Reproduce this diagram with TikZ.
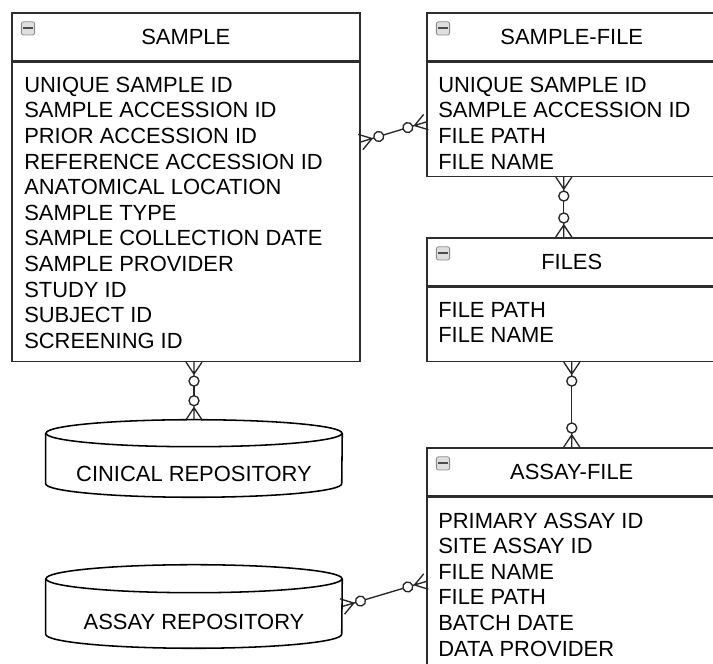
\documentclass[tikz,border=0pt]{standalone}
\usepackage{fontspec}
\setmainfont{Liberation Sans}
\usetikzlibrary{arrows.meta,positioning}
\definecolor{boxline}{RGB}{45,45,45}
\definecolor{btnfill}{RGB}{222,222,222}
\definecolor{btnline}{RGB}{140,140,140}

% crow's foot with an open circle (zero or many)
\pgfdeclarearrow{
  name = ZeroMany,
  parameters = {\the\pgfarrowlength,\the\pgfarrowwidth},
  setup code = {
    \pgfarrowssettipend{0pt}
    \pgfarrowssetlineend{-\pgfarrowlength}
    \pgfarrowssetbackend{-\pgfarrowlength}
    \pgfarrowssavethe\pgfarrowlength
    \pgfarrowssavethe\pgfarrowwidth
  },
  drawing code = {
    \pgfpathmoveto{\pgfqpoint{0pt}{0pt}}
    \pgfpathlineto{\pgfpoint{-\pgfarrowlength+0.25cm}{0pt}}
    \pgfpathmoveto{\pgfpoint{-0.3cm}{0pt}}
    \pgfpathlineto{\pgfpoint{0pt}{.5\pgfarrowwidth}}
    \pgfpathmoveto{\pgfpoint{-0.3cm}{0pt}}
    \pgfpathlineto{\pgfpoint{0pt}{-.5\pgfarrowwidth}}
    \pgfusepathqstroke
    \pgfpathcircle{\pgfpoint{-\pgfarrowlength+0.125cm}{0pt}}{0.125cm}
    \pgfusepathqstroke
  },
  defaults = {length=0.6cm, width=0.4cm}
}

% database cylinder round a (shape-less) node: name, y radius of the ends
\newcommand{\repocyl}[2]{%
  \draw[cyl] ([yshift=-#2]#1.north) ellipse[x radius=3.7cm, y radius=#2];
  \draw[cyl] ([yshift=-#2]#1.north west) -- ([yshift=#2]#1.south west)
    arc[start angle=180, end angle=360, x radius=3.7cm, y radius=#2]
    -- ([yshift=-#2]#1.north east);}

\begin{document}
\begin{tikzpicture}[
  font=\fontsize{15.6}{18.2}\selectfont,
  entity/.style={draw=boxline, line width=1.1pt, fill=white, anchor=north west, inner sep=0pt},
  attrs/.style={anchor=north west, align=left, inner sep=0pt},
  btn/.style={draw=btnline, fill=btnfill, rounded corners=1.5pt, minimum size=0.33cm,
              inner sep=0pt, line width=0.6pt,
              path picture={\draw[black!70, line width=1.3pt]
                ([xshift=1.3pt]path picture bounding box.west) --
                ([xshift=-1.3pt]path picture bounding box.east);}},
  cyl/.style={draw=black, line width=1.1pt},
  repo/.style={minimum width=7.4cm, inner sep=0pt},
  er/.style={draw=black!85, line width=0.95pt, ZeroMany-ZeroMany},
]
\fill[white] (0,0) rectangle (17.825,16.6);
\useasboundingbox (0,0) rectangle (17.825,16.6);
\clip (0,0) rectangle (17.825,16.6);

% ===================== SAMPLE =====================
\node[entity, minimum width=8.7cm, minimum height=1.2cm] (samplehd) at (0.275,16.3) {SAMPLE};
\node[btn] (samplebtn) at ([xshift=0.425cm,yshift=-0.41cm]samplehd.north west) {};
\node[entity, minimum width=8.7cm, minimum height=7.475cm] (sample) at (samplehd.south west) {};
\node[attrs] (sampleattr) at ([xshift=0.325cm,yshift=-0.38cm]sample.north west) {%
UNIQUE SAMPLE ID\\
SAMPLE ACCESSION ID\\
PRIOR ACCESSION ID\\
REFERENCE ACCESSION ID\\
ANATOMICAL LOCATION\\
SAMPLE TYPE\\
SAMPLE COLLECTION DATE\\
SAMPLE PROVIDER\\
STUDY ID\\
SUBJECT ID\\
SCREENING ID};

% ===================== SAMPLE-FILE =====================
\node[entity, minimum width=7.25cm, minimum height=1.2cm] (smpfilehd) at (10.65,16.3) {SAMPLE-FILE};
\node[btn] (smpfilebtn) at ([xshift=0.425cm,yshift=-0.41cm]smpfilehd.north west) {};
\node[entity, minimum width=7.25cm, minimum height=2.85cm] (smpfile) at (smpfilehd.south west) {};
\node[attrs] (smpfileattr) at ([xshift=0.3cm,yshift=-0.38cm]smpfile.north west) {%
UNIQUE SAMPLE ID\\
SAMPLE ACCESSION ID\\
FILE PATH\\
FILE NAME};

% ===================== FILES =====================
\node[entity, minimum width=7.25cm, minimum height=1.2cm] (fileshd) at (10.65,10.675) {FILES};
\node[btn] (filesbtn) at ([xshift=0.425cm,yshift=-0.41cm]fileshd.north west) {};
\node[entity, minimum width=7.25cm, minimum height=1.85cm] (files) at (fileshd.south west) {};
\node[attrs] (filesattr) at ([xshift=0.3cm,yshift=-0.38cm]files.north west) {%
FILE PATH\\
FILE NAME};

% ===================== ASSAY-FILE =====================
\node[entity, minimum width=7.25cm, minimum height=1.2cm] (assayfilehd) at (10.65,5.425) {ASSAY-FILE};
\node[btn] (assayfilebtn) at ([xshift=0.425cm,yshift=-0.41cm]assayfilehd.north west) {};
\node[entity, minimum width=7.25cm, minimum height=5cm] (assayfile) at (assayfilehd.south west) {};
\node[attrs] (assayfileattr) at ([xshift=0.3cm,yshift=-0.4cm]assayfile.north west) {%
PRIMARY ASSAY ID\\
SITE ASSAY ID\\
FILE NAME\\
FILE PATH\\
BATCH DATE\\
DATA PROVIDER};

% ===================== repositories =====================
\node[repo, minimum height=1.925cm] (clinrepo) at (4.85,5.1375) {};
\repocyl{clinrepo}{0.3375cm}
\node (clinrepotxt) at (4.85,4.7625) {CINICAL REPOSITORY};

\node[repo, minimum height=2.075cm] (assayrepo) at (4.85,1.4375) {};
\repocyl{assayrepo}{0.35cm}
\node (assayrepotxt) at (4.85,1.05) {ASSAY REPOSITORY};

% zero-or-many on both ends
\draw[er] ([yshift=-2.0125cm]sample.north east) -- ([yshift=-1.5125cm]smpfile.north west);
\draw[er] ([xshift=-0.2cm]smpfile.south) -- ([xshift=-0.2cm]fileshd.north);
\draw[er] (files.south) -- (assayfilehd.north);
\draw[er] (sample.south -| clinrepo.north) -- (clinrepo.north);
\draw[er] (assayrepo.east) -- ([yshift=-2.125cm]assayfile.north west);

\end{tikzpicture}
\end{document}
